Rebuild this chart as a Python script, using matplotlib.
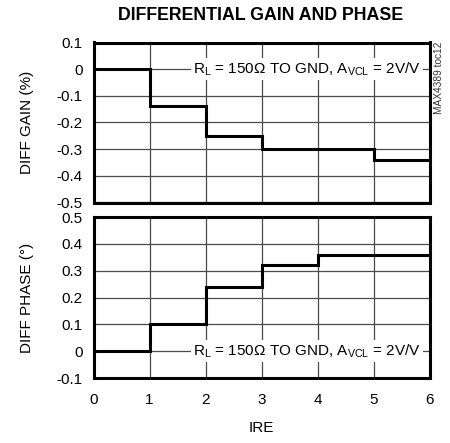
import matplotlib
matplotlib.use("Agg")
import matplotlib.pyplot as plt
from matplotlib import font_manager

# 사용할 폰트 (좁은 Arial 계열)
names = {f.name for f in font_manager.fontManager.ttflist}
FONT = 'Liberation Sans Narrow' if 'Liberation Sans Narrow' in names else 'Liberation Sans'
plt.rcParams['font.family'] = [FONT, 'DejaVu Sans']
plt.rcParams['mathtext.fontset'] = 'custom'
plt.rcParams['mathtext.rm'] = FONT

# 데이터
ire_edges = [0, 1, 2, 3, 4, 5, 6]
diff_gain = [0.0, -0.14, -0.25, -0.30, -0.30, -0.34]
diff_phase = [0.0, 0.10, 0.24, 0.32, 0.36, 0.36]

gain_ticks = [0.1, 0, -0.1, -0.2, -0.3, -0.4, -0.5]
phase_ticks = [0.5, 0.4, 0.3, 0.2, 0.1, 0, -0.1]
x_ticks = [0, 1, 2, 3, 4, 5, 6]

note = r'R$_\mathregular{L}$ = 150Ω TO GND, A$_\mathregular{VCL}$ = 2V/V'

fig = plt.figure(figsize=(4.5, 4.43), dpi=100)
W, H = 450, 443
ax1 = fig.add_axes([93.5 / W, 1 - 202.5 / H, 336 / W, 160 / H])
ax2 = fig.add_axes([93.5 / W, 1 - 378 / H, 336 / W, 161 / H])


def style(ax, ticks, ylim):
    ax.set_xlim(0, 6)
    ax.set_ylim(*ylim)
    ax.set_xticks(x_ticks)
    ax.set_yticks(ticks)
    ax.set_yticklabels(['0' if t == 0 else f'{t:g}' for t in ticks])
    ax.grid(True, color='#4a4a4a', lw=0.9)
    ax.tick_params(length=0, labelsize=11, pad=8)
    for s in ax.spines.values():
        s.set_linewidth(2.2)


style(ax1, gain_ticks, (-0.5, 0.1))
style(ax2, phase_ticks, (-0.1, 0.5))
ax1.tick_params(labelbottom=False)
ax2.tick_params(axis='x', pad=11)

ax1.stairs(diff_gain, ire_edges, color='black', lw=2.2, baseline=None, zorder=3)
ax2.stairs(diff_phase, ire_edges, color='black', lw=2.2, baseline=None, zorder=3)

box = dict(facecolor='white', edgecolor='none', pad=1.5)
ax1.text(5.85, 0.0, note, ha='right', va='center', fontsize=11, bbox=box, zorder=4)
ax2.text(5.85, 0.0, note, ha='right', va='center', fontsize=11, bbox=box, zorder=4)

ax1.set_ylabel('DIFF GAIN (%)', fontsize=11, labelpad=16)
ax2.set_ylabel('DIFF PHASE (°)', fontsize=11, labelpad=16)
ax2.set_xlabel('IRE', fontsize=11, labelpad=10)

fig.text(261 / W, 1 - 15 / H, 'DIFFERENTIAL GAIN AND PHASE', ha='center', va='center',
         fontsize=12.8, fontweight='bold')
fig.text(439 / W, 1 - 78 / H, 'MAX4389 toc12', ha='center', va='center',
         rotation=90, fontsize=7.3, color='#333333')

fig.savefig('out.png', dpi=100)
